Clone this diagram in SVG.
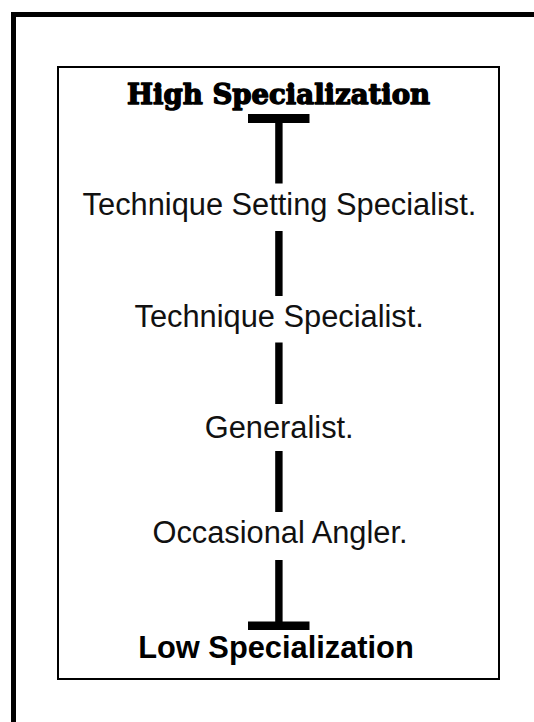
<svg xmlns="http://www.w3.org/2000/svg" width="534" height="722" viewBox="0 0 534 722">
  <style>
    .frame { fill: none; stroke: #000; }
    .label { font-family: "Liberation Sans", Arial, sans-serif; font-size: 30.8px; fill: #111; text-anchor: middle; }
    .bold { font-weight: bold; fill: #000; }
    .slab { font-family: "DejaVu Serif", "Liberation Serif", serif; font-weight: bold; font-size: 27px; fill: #000; stroke: #000; stroke-width: 1.4; stroke-linejoin: round; text-anchor: middle; }
    .bar { fill: #000; }
  </style>

  <rect width="534" height="722" fill="#fff"/>

  <!-- outer border, running past the right and bottom edges -->
  <rect class="frame" x="13.5" y="14.5" width="620" height="820" stroke-width="5"/>

  <!-- inner panel -->
  <rect class="frame" x="58" y="67" width="441" height="612" stroke-width="2"/>

  <!-- scale line: end caps and segments between the levels -->
  <g id="connectors">
    <rect class="bar" x="248" y="114" width="61.5" height="9"/>
    <rect class="bar" x="275.2" y="122" width="7.4" height="61.5"/>
    <rect class="bar" x="275.2" y="231" width="7.4" height="65"/>
    <rect class="bar" x="275.2" y="342.5" width="7.4" height="61.5"/>
    <rect class="bar" x="275.2" y="451" width="7.4" height="61"/>
    <rect class="bar" x="275.2" y="560" width="7.4" height="63"/>
    <rect class="bar" x="248" y="621.5" width="61.5" height="8.5"/>
  </g>

  <g id="high">
    <text class="slab" x="278.6" y="103.5" textLength="303" lengthAdjust="spacingAndGlyphs">High Specialization</text>
  </g>
  <g id="technique-setting-specialist">
    <text class="label" x="279.5" y="215">Technique Setting Specialist.</text>
  </g>
  <g id="technique-specialist">
    <text class="label" x="279.2" y="326.5">Technique Specialist.</text>
  </g>
  <g id="generalist">
    <text class="label" x="279.2" y="438">Generalist.</text>
  </g>
  <g id="occasional-angler">
    <text class="label" x="280" y="543">Occasional Angler.</text>
  </g>
  <g id="low">
    <text class="label bold" x="276" y="658">Low Specialization</text>
  </g>
</svg>
